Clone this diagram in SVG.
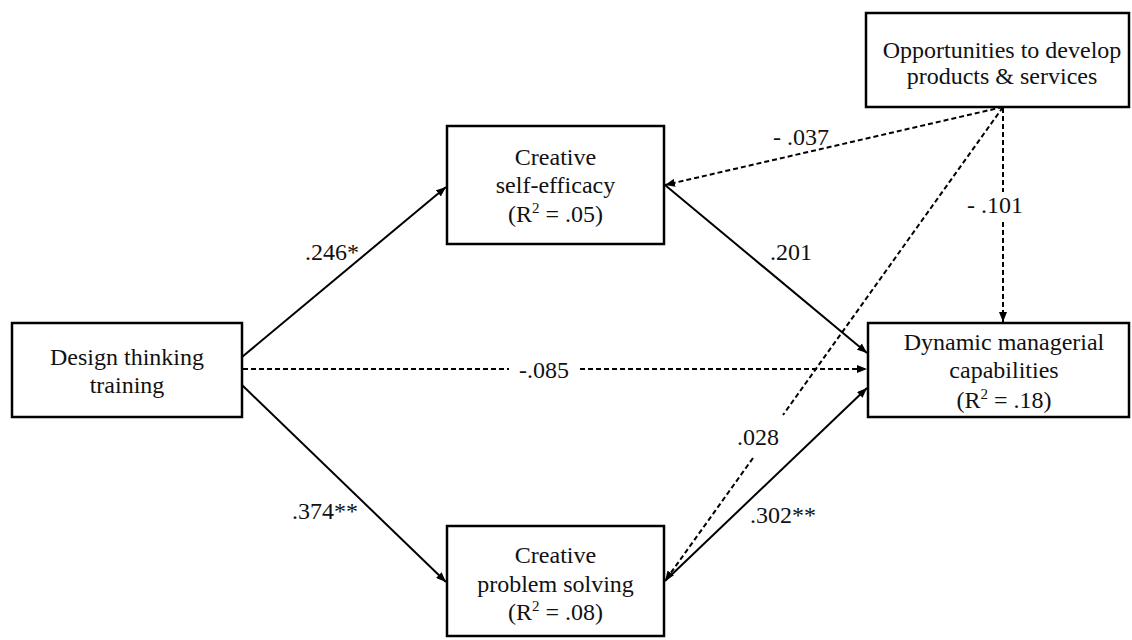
<svg xmlns="http://www.w3.org/2000/svg" width="1132" height="640" viewBox="0 0 1132 640">
<defs>
<style>
.box{fill:#fff;stroke:#000;stroke-width:2.5}
text{font-family:'Liberation Serif','DejaVu Serif','Times New Roman',serif;font-size:24px;fill:#111}
.t{text-anchor:middle}
.sup{font-size:15px}
.s{fill:none;stroke:#000;stroke-width:2}
.d{fill:none;stroke:#000;stroke-width:2;stroke-dasharray:5 3}
</style>
<marker id="ah" viewBox="0 0 10 8" refX="10" refY="4" markerWidth="10" markerHeight="8" markerUnits="userSpaceOnUse" orient="auto">
<path d="M0,0 L10,4 L0,8 Z" fill="#000"/>
</marker>
</defs>
<rect width="1132" height="640" fill="#fff"/>
<g id="connectors">
<line class="s" x1="242" y1="357" x2="446" y2="187" marker-end="url(#ah)"/>
<line class="s" x1="242" y1="385" x2="446" y2="582" marker-end="url(#ah)"/>
<line class="d" x1="243" y1="369" x2="509" y2="369"/>
<line class="d" x1="580" y1="369" x2="867" y2="369" marker-end="url(#ah)"/>
<line class="s" x1="665" y1="185" x2="867" y2="353" marker-end="url(#ah)"/>
<line class="s" x1="665" y1="581" x2="867" y2="388" marker-end="url(#ah)"/>
<line class="d" x1="1003" y1="107" x2="665" y2="185" marker-end="url(#ah)"/>
<line class="d" x1="1003" y1="107" x2="783" y2="415"/>
<line class="d" x1="753" y1="458" x2="665" y2="581" marker-end="url(#ah)"/>
<line class="d" x1="1003" y1="108" x2="1003" y2="192"/>
<line class="d" x1="1003" y1="222" x2="1003" y2="322" marker-end="url(#ah)"/>
<text x="305" y="260">.246*</text>
<text x="292" y="519">.374**</text>
<text x="519" y="378">-.085</text>
<text x="773" y="145">- .037</text>
<text x="770" y="260">.201</text>
<text x="967" y="213">- .101</text>
<text x="737" y="445">.028</text>
<text x="750" y="523">.302**</text>
</g>
<g id="dtt">
<rect class="box" x="12" y="323" width="230" height="94"/>
<text class="t" x="127" y="365">Design thinking</text>
<text class="t" x="127" y="393">training</text>
</g>
<g id="cse">
<rect class="box" x="447" y="126" width="217" height="118"/>
<text class="t" x="555.5" y="165">Creative</text>
<text class="t" x="555.5" y="193">self-efficacy</text>
<text class="t" x="555.5" y="222">(R<tspan class="sup" dy="-9">2</tspan><tspan dy="9"> = .05)</tspan></text>
</g>
<g id="cps">
<rect class="box" x="447" y="526" width="217" height="110"/>
<text class="t" x="555.5" y="563">Creative</text>
<text class="t" x="555.5" y="592">problem solving</text>
<text class="t" x="555.5" y="620">(R<tspan class="sup" dy="-9">2</tspan><tspan dy="9"> = .08)</tspan></text>
</g>
<g id="opp">
<rect class="box" x="866" y="13" width="263" height="94"/>
<text class="t" x="1002" y="58">Opportunities to develop</text>
<text class="t" x="1002" y="84">products &amp; services</text>
</g>
<g id="dmc">
<rect class="box" x="868" y="323" width="261" height="94"/>
<text class="t" x="1004" y="350">Dynamic managerial</text>
<text class="t" x="1004" y="378">capabilities</text>
<text class="t" x="1004" y="408">(R<tspan class="sup" dy="-9">2</tspan><tspan dy="9"> = .18)</tspan></text>
</g>
</svg>
